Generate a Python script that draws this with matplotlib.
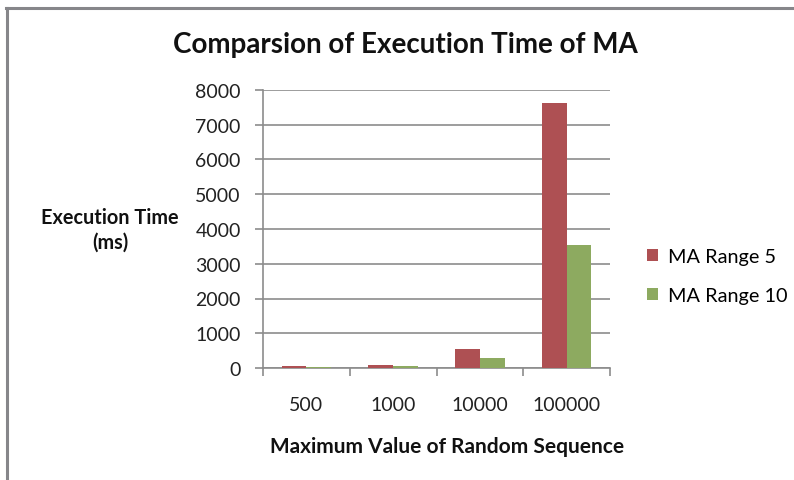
import matplotlib
matplotlib.use("Agg")
import matplotlib.pyplot as plt
import numpy as np
from matplotlib.lines import Line2D

categories = ["500", "1000", "10000", "100000"]
series_names = ["MA Range 5", "MA Range 10"]
ma5 = [45, 90, 540, 7620]
ma10 = [35, 45, 290, 3540]
yticks = [0, 1000, 2000, 3000, 4000, 5000, 6000, 7000, 8000]

red = "#AE5053"
green = "#8DAA60"
gray = "#8C8C8C"
font = ["Lato", "DejaVu Sans"]
plt.rcParams['font.family'] = font

fig = plt.figure(figsize=(7.94, 4.81), dpi=100)
bc = "#86868A"
fig.lines.append(Line2D([7/794, 7/794], [0, 1-9/481], transform=fig.transFigure,
                        color=bc, linewidth=2.2))
fig.lines.append(Line2D([6/794, 1], [1-9/481, 1-9/481], transform=fig.transFigure,
                        color=bc, linewidth=2.2))

ax = fig.add_axes([263/794, 1-369/481, (610-263)/794, (369-91)/481])
x = np.arange(len(categories))
w = 1/3.5
ax.bar(x - w/2, ma5, width=w, color=red, label=series_names[0], zorder=3)
ax.bar(x + w/2, ma10, width=w, color=green, label=series_names[1], zorder=3)

ax.set_xlim(-0.5, len(categories) - 0.5)
ax.set_ylim(0, 8000)
ax.set_yticks(yticks)
ax.set_yticklabels([str(v) for v in yticks], fontsize=14, color="#222222")
ax.yaxis.grid(True, color=gray, linewidth=1.2, zorder=0)
ax.set_xticks(x)
ax.set_xticklabels(categories, fontsize=14, color="#222222")
ax.set_xticks(np.arange(-0.5, len(categories)), minor=True)
ax.tick_params(axis='x', which='major', length=0, pad=20)
ax.tick_params(axis='x', which='minor', length=6, color=gray, width=1.2)
ax.tick_params(axis='y', length=6, color=gray, width=1.2, pad=10)
for s in ["top", "right"]:
    ax.spines[s].set_visible(False)
for s in ["left", "bottom"]:
    ax.spines[s].set_color(gray)
    ax.spines[s].set_linewidth(1.2)

fig.text(405/794, 1-45/481, "Comparsion of Execution Time of MA", ha="center", va="center",
         fontsize=20, fontweight="bold", color="#111111")
fig.text(110/794, 1-230/481, "Execution Time\n(ms)", ha="center", va="center",
         fontsize=14.3, fontweight="bold", color="#111111", linespacing=1.3)
fig.text(447/794, 1-447/481, "Maximum Value of Random Sequence", ha="center", va="center",
         fontsize=15, fontweight="bold", color="#111111")

leg = fig.legend(loc="center left", bbox_to_anchor=(647/794, 1-277/481), frameon=False,
                 fontsize=14.3, handlelength=0.55, handleheight=0.55, handletextpad=0.5,
                 labelspacing=1.1, borderpad=0, borderaxespad=0)

fig.savefig("out.png", dpi=100, facecolor="white")
